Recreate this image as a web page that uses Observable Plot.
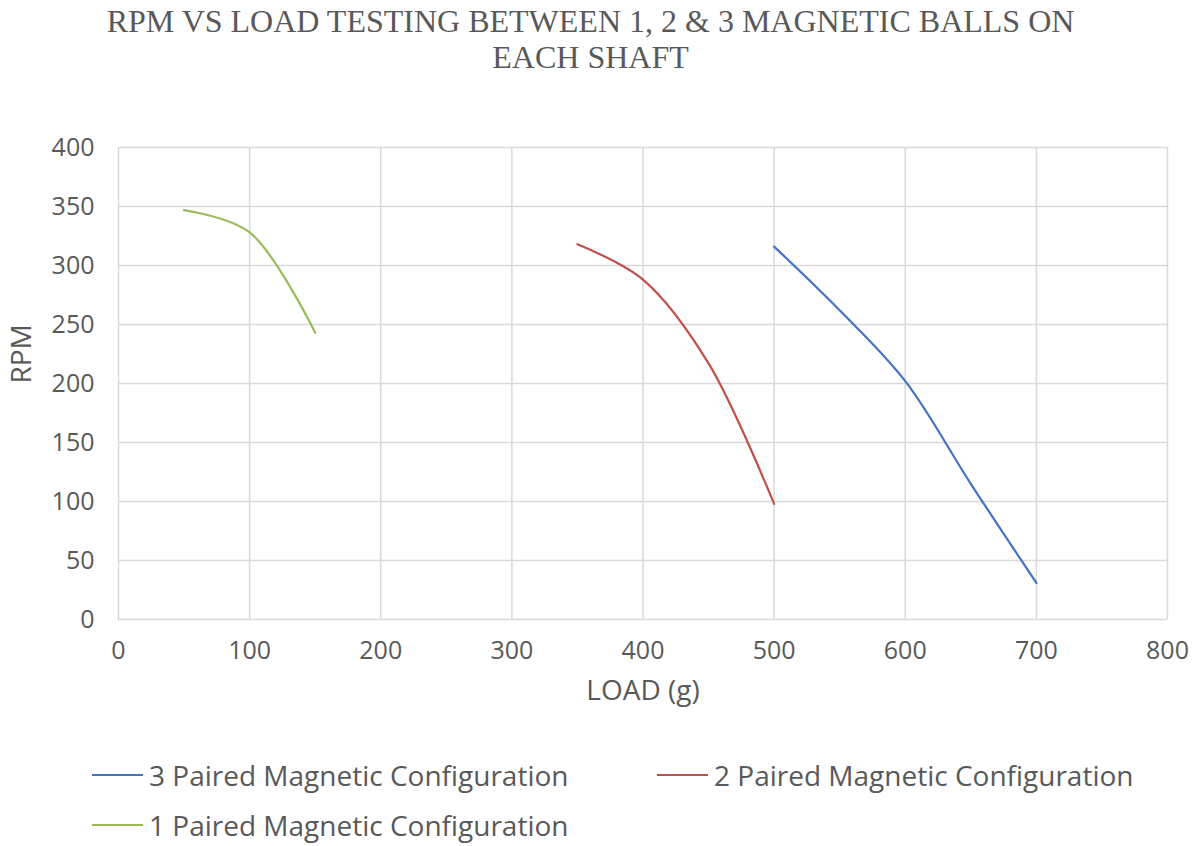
<!DOCTYPE html>
<html>
<head>
<meta charset="utf-8">
<script src="https://cdn.jsdelivr.net/npm/d3@7"></script>
<script src="https://cdn.jsdelivr.net/npm/@observablehq/plot@0.6"></script>
<style>
  html, body { margin: 0; padding: 0; background: #fff; }
  #wrap { width: 1195px; height: 846px; position: relative; overflow: hidden; }
  .title { position: absolute; left: 0; width: 1195px; text-align: center; font-family: "Liberation Serif", "DejaVu Serif", serif; font-size: 32px; color: #595959; white-space: nowrap; }
  .legend { position: absolute; font-family: "Open Sans", sans-serif; font-size: 28px; line-height: 28px; color: #595959; display: flex; align-items: center; white-space: nowrap; }
  .legend .sw { width: 51px; height: 2px; margin-right: 6px; }
  #chart { position: absolute; left: 0; top: 100px; }
</style>
</head>
<body>
<div id="wrap">
  <div class="title" id="t1" style="top:3px;"></div>
  <div class="title" id="t2" style="top:39px;"></div>
  <div id="chart"></div>
  <div id="legend"></div>
</div>
<script>
const titleLines = ["RPM VS LOAD TESTING BETWEEN 1, 2 & 3 MAGNETIC BALLS ON", "EACH SHAFT"];
const xLabel = "LOAD (g)";
const yLabel = "RPM";
const xTicks = [0, 100, 200, 300, 400, 500, 600, 700, 800];
const yTicks = [0, 50, 100, 150, 200, 250, 300, 350, 400];

const seriesNames = ["3 Paired Magnetic Configuration", "2 Paired Magnetic Configuration", "1 Paired Magnetic Configuration"];
const seriesColors = ["#4472c4", "#c0504d", "#9bbb59"];

const load3 = [500, 550, 600, 650, 700];
const rpm3  = [316, 262, 202, 115, 31];
const load2 = [350, 400, 450, 500];
const rpm2  = [318, 288, 217, 98];
const load1 = [50, 100, 150];
const rpm1  = [347, 328, 243];

const rows = [];
[[load3, rpm3], [load2, rpm2], [load1, rpm1]].forEach(([xs, ys], i) => {
  xs.forEach((x, j) => rows.push({series: seriesNames[i], load: x, rpm: ys[j]}));
});

document.getElementById("t1").textContent = titleLines[0];
document.getElementById("t1").style.transform = "translateX(-7px)";
document.getElementById("t2").textContent = titleLines[1];
document.getElementById("t2").style.transform = "translateX(-7px)";

const chart = Plot.plot({
  width: 1195,
  height: 620,
  marginTop: 47,
  marginBottom: 101,
  marginLeft: 118,
  marginRight: 28,
  style: {fontFamily: "'Open Sans', sans-serif", fontSize: "25px", color: "#595959", background: "#fff"},
  x: {domain: [0, 800], ticks: xTicks, label: null},
  y: {domain: [0, 400], ticks: yTicks, label: null},
  color: {domain: seriesNames, range: seriesColors},
  marks: [
    Plot.gridX(xTicks, {stroke: "#d9d9d9", strokeOpacity: 1, strokeWidth: 1.5}),
    Plot.gridY(yTicks, {stroke: "#d9d9d9", strokeOpacity: 1, strokeWidth: 1.5}),
    Plot.axisX({ticks: xTicks, tickSize: 0, tickPadding: 22, fill: "#595959", fontSize: 25}),
    Plot.axisY({ticks: yTicks, tickSize: 0, tickPadding: 24, fill: "#595959", fontSize: 25}),
    Plot.text([xLabel], {frameAnchor: "bottom", dy: 80, fill: "#595959", fontSize: 28}),
    Plot.text([yLabel], {frameAnchor: "left", dx: -96, rotate: -90, fill: "#595959", fontSize: 28}),
    Plot.line(rows, {x: "load", y: "rpm", z: "series", stroke: "series", strokeWidth: 2.2, curve: "catmull-rom"})
  ]
});
document.getElementById("chart").appendChild(chart);

const legendPos = [[92, 775], [657, 775], [92, 825]];
const lg = document.getElementById("legend");
seriesNames.forEach((name, i) => {
  const d = document.createElement("div");
  d.className = "legend";
  d.style.left = legendPos[i][0] + "px";
  d.style.top = (legendPos[i][1] - 15) + "px";
  d.style.height = "30px";
  const sw = document.createElement("span");
  sw.className = "sw";
  sw.style.background = seriesColors[i];
  const tx = document.createElement("span");
  tx.textContent = name;
  d.appendChild(sw); d.appendChild(tx);
  lg.appendChild(d);
});
</script>
</body>
</html>
